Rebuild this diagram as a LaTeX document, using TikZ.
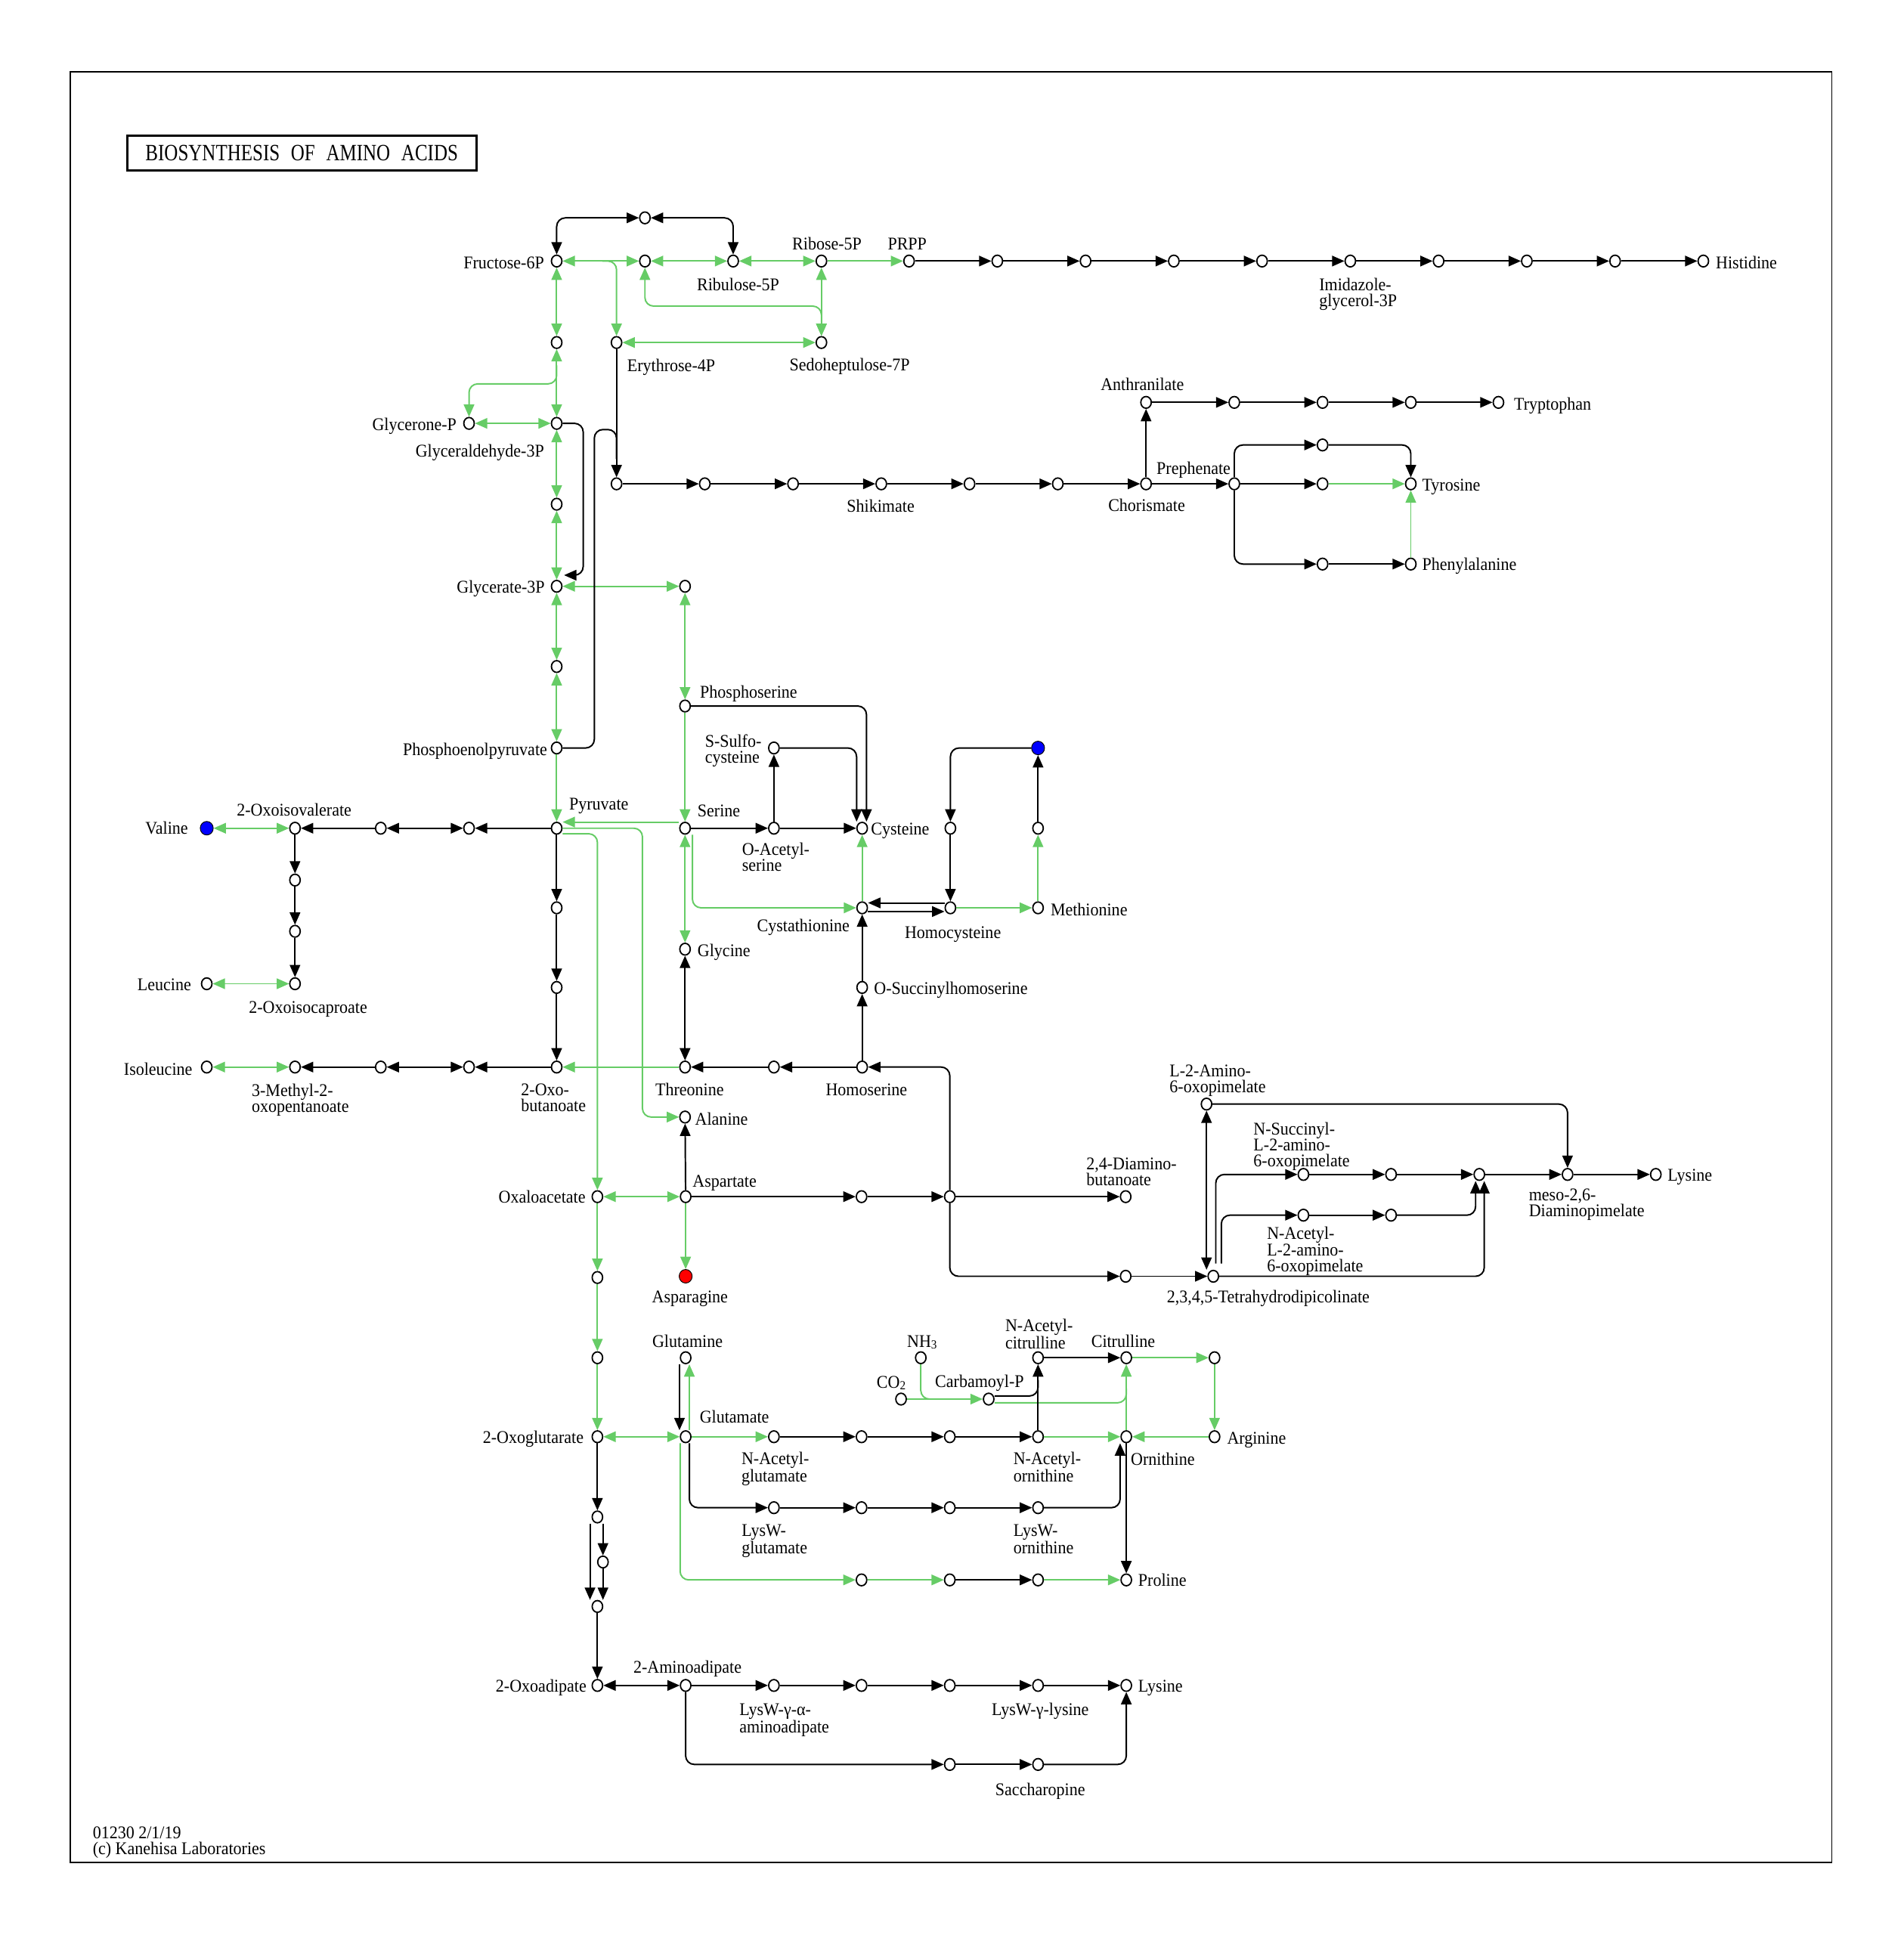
\documentclass[tikz,border=0pt]{standalone}
\usepackage{fontspec}
\usetikzlibrary{arrows.meta,shapes.geometric}
\newfontfamily\keggfont[FakeStretch=0.93]{Liberation Serif}
\newfontfamily\keggtitle[FakeStretch=0.81]{Liberation Serif}
\newcommand\kfont{\keggfont\fontsize{14.5}{12.9}\selectfont}
\newcommand\ksub[1]{\raisebox{-1.5pt}{\fontsize{10}{10}\selectfont #1}}
\definecolor{keggreen}{RGB}{102,204,102}
\tikzset{
  cpd/.style={ellipse, draw, fill=white, line width=1.1pt, minimum width=8.5pt, minimum height=9.5pt, inner sep=0pt},
  hitb/.style={cpd, fill=blue, line width=0.6pt, minimum width=10.5pt, minimum height=11pt},
  hitr/.style={hitb, fill=red},
  lbl/.style={font=\kfont, inner sep=0pt, text height=10pt, text depth=3pt, yshift=-1.5pt},
  mlbl/.style={font=\kfont, inner sep=0pt, align=left, anchor=north west, yshift=5.2pt},
  bk/.style={draw=black, line width=1.2pt, rounded corners=7pt},
  gn/.style={draw=keggreen, line width=1.2pt, rounded corners=7pt},
}
\begin{document}
\begin{tikzpicture}[x=1pt, y=-1pt, >={Triangle[length=10pt,width=8.5pt]}]
  \useasboundingbox (0,0) rectangle (1542,1567.7);
  \draw[line width=1pt] (57,58) rectangle (1484,1509);
  \node[draw, line width=2pt, minimum width=283pt, minimum height=28pt, inner sep=0pt,
    font=\keggtitle\fontsize{18.9}{18.9}\selectfont] (title) at (244.5,124)
    {BIOSYNTHESIS\hspace{9pt}OF\hspace{9pt}AMINO\hspace{9pt}ACIDS};
  \node[mlbl] (stamp) at (75,1485) {01230 2/1/19\\(c) Kanehisa Laboratories};

  % compounds
  \path
    (451,211.5) node[cpd] (f6p) {}
    (522.5,176.5) node[cpd] (tk1) {}
    (522.5,211.5) node[cpd] (x5p) {}
    (594,211.5) node[cpd] (ru5p) {}
    (665.5,211.5) node[cpd] (r5p) {}
    (736.5,211.5) node[cpd] (prpp) {}
    (808,211.5) node[cpd] (h1) {}
    (879.5,211.5) node[cpd] (h2) {}
    (951,211.5) node[cpd] (h3) {}
    (1022.5,211.5) node[cpd] (h4) {}
    (1094,211.5) node[cpd] (igp) {}
    (1165.5,211.5) node[cpd] (h6) {}
    (1237,211.5) node[cpd] (h7) {}
    (1308.5,211.5) node[cpd] (h8) {}
    (1380,211.5) node[cpd] (his) {}
    (451,277.5) node[cpd] (fbp) {}
    (499.5,277.5) node[cpd] (e4p) {}
    (665.5,277.5) node[cpd] (s7p) {}
    (380,343) node[cpd] (dhap) {}
    (451,343) node[cpd] (gap) {}
    (451,408.5) node[cpd] (bpg) {}
    (451,475) node[cpd] (pga) {}
    (555,475) node[cpd] (php) {}
    (451,540) node[cpd] (pg2) {}
    (451,606) node[cpd] (pep) {}
    (451,671) node[cpd] (pyr) {};
  \path
    (499.5,392) node[cpd] (s1) {}
    (571,392) node[cpd] (s2) {}
    (642.5,392) node[cpd] (s3) {}
    (714,392) node[cpd] (shik) {}
    (785.5,392) node[cpd] (s5) {}
    (857,392) node[cpd] (s6) {}
    (928.5,392) node[cpd] (chor) {}
    (1000,392) node[cpd] (preph) {}
    (1071.5,392) node[cpd] (t1) {}
    (1143,392) node[cpd] (tyr) {}
    (928.5,326) node[cpd] (anth) {}
    (1000,326) node[cpd] (tr1) {}
    (1071.5,326) node[cpd] (tr2) {}
    (1143,326) node[cpd] (tr3) {}
    (1214,326) node[cpd] (trp) {}
    (1071.5,360.5) node[cpd] (y1) {}
    (1071.5,457) node[cpd] (f1) {}
    (1143,457) node[cpd] (phe) {};
  \path
    (555,572) node[cpd] (pser) {}
    (627,606) node[cpd] (ssc) {}
    (555,671) node[cpd] (ser) {}
    (627,671) node[cpd] (oas) {}
    (698.5,671) node[cpd] (cys) {}
    (770,671) node[cpd] (m1) {}
    (841,671) node[cpd] (m2) {}
    (841,606) node[hitb] (amet) {}
    (698.5,735.5) node[cpd] (cth) {}
    (770,735.5) node[cpd] (hcy) {}
    (841,735.5) node[cpd] (met) {}
    (555,769) node[cpd] (gly) {}
    (698.5,800) node[cpd] (osh) {}
    (698.5,864.5) node[cpd] (hom) {}
    (627,864.5) node[cpd] (ph1) {}
    (555,864.5) node[cpd] (thr) {}
    (555,905) node[cpd] (ala) {};
  \path
    (167.5,671) node[hitb] (val) {}
    (239,671) node[cpd] (kiv) {}
    (308.5,671) node[cpd] (v2) {}
    (380,671) node[cpd] (v1) {}
    (239,713) node[cpd] (l1) {}
    (239,754.5) node[cpd] (l2) {}
    (239,797) node[cpd] (kic) {}
    (167.5,797) node[cpd] (leu) {}
    (451,735.5) node[cpd] (b1) {}
    (451,800) node[cpd] (b2) {}
    (451,864.5) node[cpd] (kb) {}
    (380,864.5) node[cpd] (i1) {}
    (308.5,864.5) node[cpd] (i2) {}
    (239,864.5) node[cpd] (kmv) {}
    (167.5,864.5) node[cpd] (ile) {};
  \path
    (484,969.5) node[cpd] (oaa) {}
    (555.5,969.5) node[cpd] (asp) {}
    (698,969.5) node[cpd] (a1) {}
    (769.5,969.5) node[cpd] (asa) {}
    (912,969.5) node[cpd] (dab) {}
    (555.5,1034) node[hitr] (asn) {}
    (484,1035) node[cpd] (o1) {}
    (484,1100) node[cpd] (o2) {}
    (912,1034) node[cpd] (d1) {}
    (983,1034) node[cpd] (thdp) {}
    (977.5,894.5) node[cpd] (l2a) {}
    (1056,951.5) node[cpd] (nsucc) {}
    (1127,951.5) node[cpd] (k2) {}
    (1198.5,951.5) node[cpd] (k3) {}
    (1270,951.5) node[cpd] (dap) {}
    (1341.5,951.5) node[cpd] (lysd) {}
    (1056,984.5) node[cpd] (nacl) {}
    (1127,984.5) node[cpd] (k5) {};
  \path
    (484,1164) node[cpd] (akg) {}
    (555.5,1100) node[cpd] (gln) {}
    (555.5,1164) node[cpd] (glu) {}
    (627,1164) node[cpd] (nag) {}
    (698,1164) node[cpd] (g1) {}
    (769.5,1164) node[cpd] (g2) {}
    (841,1164) node[cpd] (nao) {}
    (912.5,1164) node[cpd] (orn) {}
    (984,1164) node[cpd] (arg) {}
    (984,1100) node[cpd] (r1) {}
    (912.5,1100) node[cpd] (cit) {}
    (841,1100) node[cpd] (nac) {}
    (746,1100) node[cpd] (nh3) {}
    (730,1133.5) node[cpd] (co2) {}
    (801,1133.5) node[cpd] (cap) {}
    (627,1221.5) node[cpd] (lwg) {}
    (698,1221.5) node[cpd] (lw1) {}
    (769.5,1221.5) node[cpd] (lw2) {}
    (841,1221.5) node[cpd] (lwo) {}
    (698,1280) node[cpd] (p5) {}
    (769.5,1280) node[cpd] (p6) {}
    (841,1280) node[cpd] (p7) {}
    (912.5,1280) node[cpd] (pro) {}
    (484,1229) node[cpd] (e1) {}
    (488.5,1265.5) node[cpd] (e2) {}
    (484,1301.5) node[cpd] (e3) {}
    (484,1365.5) node[cpd] (oad) {}
    (555.5,1365.5) node[cpd] (aad) {}
    (627,1365.5) node[cpd] (lwaa) {}
    (698,1365.5) node[cpd] (c1) {}
    (769.5,1365.5) node[cpd] (c2) {}
    (841,1365.5) node[cpd] (lwl) {}
    (912.5,1365.5) node[cpd] (lys) {}
    (769.5,1429.5) node[cpd] (sa1) {}
    (841,1429.5) node[cpd] (sacc) {};
  \coordinate (tkj) at (488,211.5);
  \coordinate (ald) at (451,296);
  \coordinate (pgatip) at (457,466);

  % names
  \path
    (441,212.5) node[lbl,anchor=east] (tf6p) {Fructose-6P}
    (598,230.5) node[lbl] (tru5p) {Ribulose-5P}
    (670,197.5) node[lbl] (tr5p) {Ribose-5P}
    (735,197.5) node[lbl] (tprpp) {PRPP}
    (1390,213) node[lbl,anchor=west] (this) {Histidine}
    (508,296) node[lbl,anchor=west] (te4p) {Erythrose-4P}
    (639.5,295.5) node[lbl,anchor=west] (ts7p) {Sedoheptulose-7P}
    (370,344) node[lbl,anchor=east] (tdhap) {Glycerone-P}
    (441,365) node[lbl,anchor=east] (tgap) {Glyceraldehyde-3P}
    (441.5,475.5) node[lbl,anchor=east] (tpga) {Glycerate-3P}
    (443.5,607) node[lbl,anchor=east] (tpep) {Phosphoenolpyruvate}
    (461,651) node[lbl,anchor=west] (tpyr) {Pyruvate}
    (925.5,311.5) node[lbl] (tanth) {Anthranilate}
    (1226.5,327) node[lbl,anchor=west] (ttrp) {Tryptophan}
    (967,379.5) node[lbl] (tpreph) {Prephenate}
    (1152,392.5) node[lbl,anchor=west] (ttyr) {Tyrosine}
    (1152,457) node[lbl,anchor=west] (tphe) {Phenylalanine}
    (713.5,410) node[lbl] (tshik) {Shikimate}
    (929,409.5) node[lbl] (tchor) {Chorismate};
  \path
    (567,560.5) node[lbl,anchor=west] (tpser) {Phosphoserine}
    (565,656.5) node[lbl,anchor=west] (tser) {Serine}
    (705.5,671.5) node[lbl,anchor=west] (tcys) {Cysteine}
    (688.5,750) node[lbl,anchor=east] (tcth) {Cystathionine}
    (772,755.5) node[lbl] (thcy) {Homocysteine}
    (851,737) node[lbl,anchor=west] (tmet) {Methionine}
    (565,770) node[lbl,anchor=west] (tgly) {Glycine}
    (708,800.5) node[lbl,anchor=west] (tosh) {O-Succinylhomoserine}
    (702,882.5) node[lbl] (thom) {Homoserine}
    (558.7,882.5) node[lbl] (tthr) {Threonine}
    (563,906.5) node[lbl,anchor=west] (tala) {Alanine}
    (238.3,656) node[lbl] (tkiv) {2-Oxoisovalerate}
    (152.5,671) node[lbl,anchor=east] (tval) {Valine}
    (155,797.5) node[lbl,anchor=east] (tleu) {Leucine}
    (249.6,816) node[lbl] (tkic) {2-Oxoisocaproate}
    (156,866) node[lbl,anchor=east] (tile) {Isoleucine}
    (474.5,969.5) node[lbl,anchor=east] (toaa) {Oxaloacetate}
    (561,956.5) node[lbl,anchor=west] (tasp) {Aspartate}
    (559,1050.5) node[lbl] (tasn) {Asparagine}
    (1027.5,1050.5) node[lbl] (tthdp) {2,3,4,5-Tetrahydrodipicolinate}
    (1351,952) node[lbl,anchor=west] (tlysd) {Lysine};
  \path
    (557,1086.5) node[lbl] (tgln) {Glutamine}
    (747,1086.5) node[lbl] (tnh3) {NH\ksub{3}}
    (910,1086.5) node[lbl] (tcit) {Citrulline}
    (722,1119.5) node[lbl] (tco2) {CO\ksub{2}}
    (793.6,1119) node[lbl] (tcap) {Carbamoyl-P}
    (473,1164.5) node[lbl,anchor=east] (takg) {2-Oxoglutarate}
    (595,1148) node[lbl] (tglu) {Glutamate}
    (916,1182) node[lbl,anchor=west] (torn) {Ornithine}
    (994,1165) node[lbl,anchor=west] (targ) {Arginine}
    (922,1280) node[lbl,anchor=west] (tpro) {Proline}
    (475.3,1366) node[lbl,anchor=east] (toad) {2-Oxoadipate}
    (557,1350.5) node[lbl] (taad) {2-Aminoadipate}
    (842.8,1385) node[lbl] (tlwl) {LysW-γ-lysine}
    (922,1366) node[lbl,anchor=west] (tlys) {Lysine}
    (842.8,1449.5) node[lbl] (tsacc) {Saccharopine};
  \path
    (1068.6,230.3) node[mlbl] (tigp) {Imidazole-\\glycerol-3P}
    (571,600.3) node[mlbl] (tssc) {S-Sulfo-\\cysteine}
    (601,688) node[mlbl] (toas) {O-Acetyl-\\serine}
    (203.8,883) node[mlbl] (tkmv) {3-Methyl-2-\\oxopentanoate}
    (422,883) node[mlbl] (tkb) {2-Oxo-\\butanoate}
    (880,943) node[mlbl] (tdab) {2,4-Diamino-\\butanoate}
    (947.4,867.5) node[mlbl] (tl2a) {L-2-Amino-\\6-oxopimelate}
    (1015.4,914.5) node[mlbl] (tnsucc) {N-Succinyl-\\L-2-amino-\\6-oxopimelate}
    (1026.3,999.2) node[mlbl] (tnacl) {N-Acetyl-\\L-2-amino-\\6-oxopimelate}
    (1238.5,968) node[mlbl] (tdap) {meso-2,6-\\Diaminopimelate}
    (814.3,1073.5) node[mlbl] (tnac) {N-Acetyl-\\citrulline}
    (600.6,1181.6) node[mlbl] (tnag) {N-Acetyl-\\glutamate}
    (820.9,1181.6) node[mlbl] (tnao) {N-Acetyl-\\ornithine}
    (600.7,1240) node[mlbl] (tlwg) {LysW-\\glutamate}
    (820.9,1240) node[mlbl] (tlwo) {LysW-\\ornithine}
    (598.9,1385) node[mlbl] (tlwaa) {LysW-γ-α-\\aminoadipate};

  % green, both ways
  \begin{scope}[gn,<->]
    \draw (f6p) to (x5p);
    \draw (x5p) to (ru5p);
    \draw (ru5p) to (r5p);
    \draw (f6p) to (fbp);
    \draw (x5p) |- (665.5,248) -- (s7p);
    \draw (r5p) to (s7p);
    \draw (e4p) to (s7p);
    \draw (fbp) to (gap);
    \draw (dhap) to (gap);
    \draw (gap) to (bpg);
    \draw (bpg) to (pga);
    \draw (pga) to (php);
    \draw (pga) to (pg2);
    \draw (pg2) to (pep);
    \draw (php) to (pser);
    \draw (val) to (kiv);
    \draw (leu) to (kic);
    \draw (ile) to (kmv);
    \draw (ser) to (gly);
    \draw (oaa) to (asp);
    \draw (akg) to (glu);
  \end{scope}
  % green, one way
  \begin{scope}[gn,->]
    \draw (r5p) to (prpp);
    \draw (tkj) -| (e4p);
    \draw (ald) |- (380,311) -- (dhap);
    \draw (pep) to (pyr);
    \draw (pser) to (ser);
    \draw ([yshift=5pt]ser.west) -- ([yshift=5pt]pyr.east);
    \draw (pyr) -| (520.5,905) -- (ala);
    \draw ([yshift=-4.5pt]pyr.east) -| (oaa);
    \draw (thr) to (kb);
    \draw ([xshift=6pt]ser.south) |- (cth);
    \draw (cth) to (cys);
    \draw (hcy) to (met);
    \draw (met) to (m2);
    \draw (asp) to (asn);
    \draw (oaa) to (o1);
    \draw (o1) to (o2);
    \draw (o2) to (akg);
    \draw ([xshift=3pt]glu.north) -- ([xshift=3pt]gln.south);
    \draw (glu) to (nag);
    \draw (nao) to (orn);
    \draw (arg) to (orn);
    \draw (orn) to (cit);
    \draw (cit) to (r1);
    \draw (r1) to (arg);
    \draw (co2) to (cap);
    \draw ([xshift=-4.5pt]glu.south) |- (p5);
    \draw (p5) to (p6);
    \draw (p7) to (pro);
    \draw (t1) to (tyr);
    \draw (phe) to (tyr);
  \end{scope}
  \begin{scope}[gn]
    \draw (nh3) |- (760,1133.5);
    \draw ([yshift=-3pt]cap.east) -| (912.5,1125);
  \end{scope}
  % black, both ways
  \begin{scope}[bk,<->]
    \draw (f6p) |- (tk1);
    \draw (ru5p) |- (tk1);
    \draw (v1) to (v2);
    \draw (i1) to (i2);
    \draw (gly) to (thr);
    \draw (l2a) -- (l2a |- thdp.north);
    \draw (oad) to (aad);
  \end{scope}
  % black, one way
  \begin{scope}[bk,->]
    \draw (prpp) to (h1);
    \draw (h1) to (h2);
    \draw (h2) to (h3);
    \draw (h3) to (h4);
    \draw (h4) to (igp);
    \draw (igp) to (h6);
    \draw (h6) to (h7);
    \draw (h7) to (h8);
    \draw (h8) to (his);
    \draw (gap) -| (472.5,466) -- (pgatip);
    \draw (e4p) to (s1);
    \draw (s1) to (s2);
    \draw (s2) to (s3);
    \draw (s3) to (shik);
    \draw (shik) to (s5);
    \draw (s5) to (s6);
    \draw (s6) to (chor);
    \draw (chor) to (anth);
    \draw (anth) to (tr1);
    \draw (tr1) to (tr2);
    \draw (tr2) to (tr3);
    \draw (tr3) to (trp);
    \draw (chor) to (preph);
    \draw (preph) to (t1);
    \draw (preph) |- (y1);
    \draw (y1) -| (tyr);
    \draw (preph) |- (f1);
    \draw (f1) to (phe);
    \draw (pser) -| ([xshift=3.5pt]cys.north);
    \draw (ssc) -| ([xshift=-4.5pt]cys.north);
    \draw (oas) to (ssc);
    \draw (ser) to (oas);
    \draw (oas) to (cys);
    \draw ([yshift=4pt]hcy.west) -- ([yshift=4pt]cth.east);
    \draw ([yshift=-3pt]cth.east) -- ([yshift=-3pt]hcy.west);
    \draw (osh) to (cth);
    \draw (hom) to (osh);
    \draw (m2) to (amet);
    \draw (amet) -| (m1);
    \draw (m1) to (hcy);
    \draw (hom) to (ph1);
    \draw (ph1) to (thr);
    \draw (asa) |- (hom);
    \draw (pyr) to (v1);
    \draw (v2) to (kiv);
    \draw (kiv) to (l1);
    \draw (l1) to (l2);
    \draw (l2) to (kic);
    \draw (pyr) to (b1);
    \draw (b1) to (b2);
    \draw (b2) to (kb);
    \draw (kb) to (i1);
    \draw (i2) to (kmv);
    \draw (asp) to (ala);
    \draw (asp) to (a1);
    \draw (a1) to (asa);
    \draw (asa) to (dab);
    \draw (asa) |- (d1);
    \draw (d1) to (thdp);
    \draw (l2a) -| (dap);
    \draw ([xshift=2pt,yshift=5pt]thdp.north) |- (nsucc);
    \draw ([xshift=6.5pt,yshift=5pt]thdp.north) |- (nacl);
    \draw (nsucc) to (k2);
    \draw (k2) to (k3);
    \draw (k3) to (dap);
    \draw (dap) to (lysd);
    \draw (nacl) to (k5);
    \draw (k5) -| ([xshift=-3pt]k3.south);
    \draw (thdp) -| ([xshift=4pt]k3.south);
    \draw ([xshift=-5pt]gln.south) -- ([xshift=-5pt]glu.north);
    \draw (nag) to (g1);
    \draw (g1) to (g2);
    \draw (g2) to (nao);
    \draw (nao) to (nac);
    \draw (nac) to (cit);
    \draw ([xshift=3pt]glu.south) |- (lwg);
    \draw (lwg) to (lw1);
    \draw (lw1) to (lw2);
    \draw (lw2) to (lwo);
    \draw (lwo) -| ([xshift=-5pt]orn.south);
    \draw (orn) to (pro);
    \draw (p6) to (p7);
    \draw (akg) to (e1);
    \draw ([xshift=4.5pt]e1.south) -- (e2);
    \draw ([xshift=-6pt]e1.south) -- ([xshift=-6pt]e3.north);
    \draw (e2) -- ([xshift=4.5pt]e3.north);
    \draw (e3) to (oad);
    \draw (aad) to (lwaa);
    \draw (lwaa) to (c1);
    \draw (c1) to (c2);
    \draw (c2) to (lwl);
    \draw (lwl) to (lys);
    \draw (aad) |- (sa1);
    \draw (sa1) to (sacc);
    \draw (sacc) -| (lys);
  \end{scope}
  \begin{scope}[bk]
    \draw (pep) -| (481.5,348) -| (499.5,372);
    \draw ([yshift=2.5pt]cap.east) -| (841,1118);
  \end{scope}
\end{tikzpicture}
\end{document}
